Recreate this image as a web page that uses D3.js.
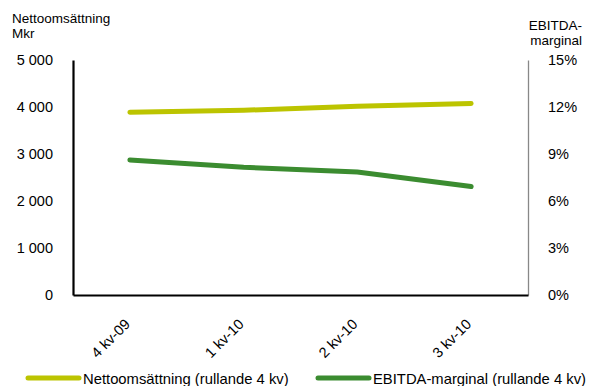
<!DOCTYPE html>
<html>
<head>
<meta charset="utf-8">
<script src="https://cdn.jsdelivr.net/npm/d3@7/dist/d3.min.js"></script>
<style>
  html, body { margin: 0; padding: 0; background: #fff; }
  svg { display: block; font-family: "Liberation Sans", Arial, sans-serif; }
</style>
</head>
<body>
<svg id="chart" width="590" height="386"></svg>
<script>
// Quarterly figures, rolling four quarters
const categories = ["4 kv-09", "1 kv-10", "2 kv-10", "3 kv-10"];
const nettoomsattning = [3890, 3930, 4015, 4075];      // Mkr
const ebitdaMarginal = [8.62, 8.15, 7.85, 6.92];        // %
const leftTicks = [0, 1000, 2000, 3000, 4000, 5000];
const rightTicks = [0, 3, 6, 9, 12, 15];
const seriesNames = ["Nettoomsättning (rullande 4 kv)", "EBITDA-marginal (rullande 4 kv)"];
const seriesColors = ["#bcc400", "#3b8c30"];

const FONT = "Liberation Sans, Arial, sans-serif";
const svg = d3.select("#chart");
const plot = { left: 73, right: 528, top: 60, bottom: 295 };

const x = d3.scaleBand().domain(categories).range([plot.left, plot.right]);
const yLeft = d3.scaleLinear().domain([0, 5000]).range([plot.bottom, plot.top]);
const yRight = d3.scaleLinear().domain([0, 15]).range([plot.bottom, plot.top]);

const fmtThousands = v => d3.format(",")(v).replace(/,/g, " ");

// Left axis (Mkr)
const gl = svg.append("g").attr("transform", `translate(${plot.left},0)`)
  .call(d3.axisLeft(yLeft).tickValues(leftTicks).tickSize(0).tickPadding(20).tickFormat(fmtThousands));
gl.select(".domain").attr("stroke", "#000").attr("stroke-width", 2.2);
gl.selectAll("text").attr("font-size", 14.5).attr("fill", "#000").attr("font-family", FONT);

// Right axis (%)
const gr = svg.append("g").attr("transform", `translate(${plot.right},0)`)
  .call(d3.axisRight(yRight).tickValues(rightTicks).tickSize(0).tickPadding(20).tickFormat(d => d + "%"));
gr.select(".domain").attr("stroke", "#888").attr("stroke-width", 1.3);
gr.selectAll("text").attr("font-size", 14.5).attr("fill", "#000").attr("font-family", FONT);

// Bottom axis with rotated category labels
const gb = svg.append("g").attr("transform", `translate(0,${plot.bottom})`)
  .call(d3.axisBottom(x).tickSize(0).tickSizeOuter(0).tickPadding(0));
gb.select(".domain").attr("stroke", "#000").attr("stroke-width", 2.2);
gb.selectAll("text").attr("font-size", 14.5).attr("fill", "#000").attr("font-family", FONT)
  .attr("text-anchor", "end").attr("dy", 0).attr("y", 0)
  .attr("transform", "translate(1,30) rotate(-45)");

// Axis titles
svg.append("text").attr("x", 12).attr("y", 23).attr("font-size", 13.5).text("Nettoomsättning");
svg.append("text").attr("x", 12).attr("y", 38).attr("font-size", 13.5).text("Mkr");
svg.append("text").attr("x", 582).attr("y", 30).attr("font-size", 13.5).attr("text-anchor", "end").text("EBITDA-");
svg.append("text").attr("x", 582).attr("y", 45).attr("font-size", 13.5).attr("text-anchor", "end").text("marginal");

// Series lines
const cx = c => x(c) + x.bandwidth() / 2;
const lineLeft = d3.line().x((d, i) => cx(categories[i])).y(d => yLeft(d));
const lineRight = d3.line().x((d, i) => cx(categories[i])).y(d => yRight(d));

svg.append("path").datum(nettoomsattning).attr("d", lineLeft)
  .attr("fill", "none").attr("stroke", seriesColors[0]).attr("stroke-width", 5).attr("stroke-linecap", "round");
svg.append("path").datum(ebitdaMarginal).attr("d", lineRight)
  .attr("fill", "none").attr("stroke", seriesColors[1]).attr("stroke-width", 5).attr("stroke-linecap", "round");

// Legend
const legendItems = [{ x: 28, name: seriesNames[0], color: seriesColors[0] },
                     { x: 318, name: seriesNames[1], color: seriesColors[1] }];
const lg = svg.append("g").selectAll("g").data(legendItems).join("g")
  .attr("transform", d => `translate(${d.x},378)`);
lg.append("line").attr("x1", 0).attr("x2", 51).attr("y1", 0).attr("y2", 0)
  .attr("stroke", d => d.color).attr("stroke-width", 5).attr("stroke-linecap", "round");
lg.append("text").attr("x", 55).attr("y", 5.5).attr("font-size", 14.8).text(d => d.name);
</script>
</body>
</html>
